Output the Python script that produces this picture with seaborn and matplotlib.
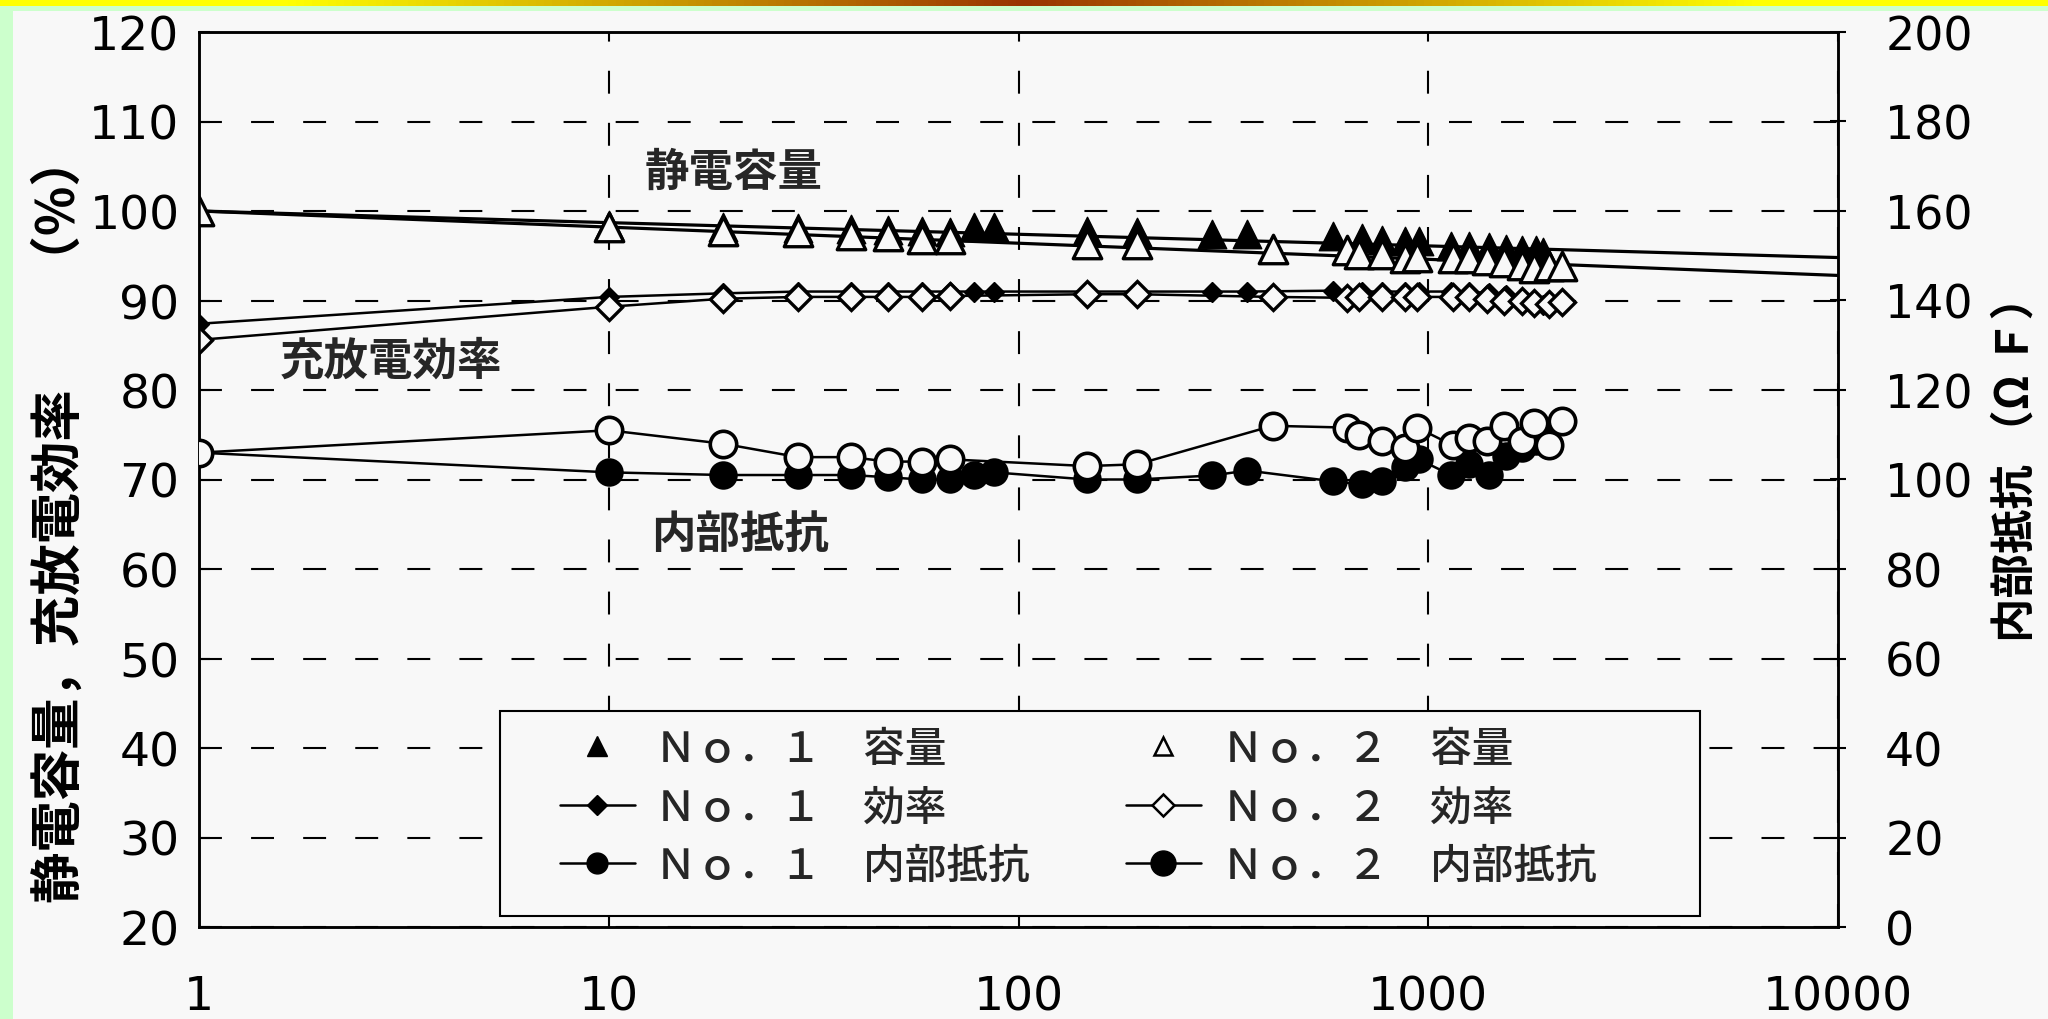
import numpy as np
import pandas as pd
import matplotlib
matplotlib.use("Agg")
import matplotlib.pyplot as plt
from matplotlib.lines import Line2D
from matplotlib.patches import Rectangle
from matplotlib.colors import LinearSegmentedColormap
from matplotlib.ticker import NullLocator
import seaborn as sns

# ---- data: cycle count vs. capacity retention / efficiency (%) and internal resistance (ΩF)
cycles_no1 = [1, 10, 19, 29, 39, 48, 58, 68, 78, 87, 147, 195, 297, 362, 585, 688,
              772, 877, 948, 1137, 1260, 1405, 1550, 1690, 1830, 1910]
capacity_no1 = [100.0, 98.4, 98.2, 98.1, 98.0, 97.9, 97.8, 97.7, 98.2, 98.2, 97.8, 97.7,
                97.4, 97.4, 97.2, 97.0, 96.8, 96.6, 96.7, 96.1, 96.1, 96.0, 95.8, 95.6,
                95.6, 95.4]
efficiency_no1 = [87.4, 90.4, 90.8, 91.0, 91.0, 91.0, 91.0, 91.0, 91.0, 91.0, 91.0, 91.0,
                  91.0, 91.0, 91.1, 91.0, 91.0, 91.0, 91.0, 91.0, 91.0, 90.8, 90.6, 90.2,
                  89.8, 89.5]
resistance_no1 = [106.0, 101.6, 101.0, 101.0, 101.0, 100.5, 100.0, 100.0, 101.0, 101.6,
                  100.0, 100.0, 100.9, 102.0, 99.6, 98.9, 99.6, 102.7, 104.5, 101.0,
                  103.4, 101.0, 105.3, 107.0, 108.6, 110.0]

cycles_no2 = [1, 10, 19, 29, 39, 48, 58, 68, 147, 195, 417, 633, 678, 772, 877, 940,
              1150, 1260, 1390, 1530, 1690, 1810, 1970, 2120]
capacity_no2 = [100.0, 98.2, 97.8, 97.7, 97.3, 97.2, 96.9, 96.9, 96.3, 96.3, 95.8, 95.6,
                95.2, 95.2, 94.8, 94.9, 94.7, 94.7, 94.5, 94.3, 94.0, 93.6, 93.8, 93.9]
efficiency_no2 = [85.6, 89.3, 90.2, 90.4, 90.4, 90.4, 90.4, 90.5, 90.7, 90.7, 90.4, 90.3,
                  90.4, 90.4, 90.4, 90.4, 90.4, 90.4, 90.2, 90.0, 89.9, 89.7, 89.6, 89.8]
resistance_no2 = [106.0, 111.0, 108.0, 105.0, 105.0, 104.0, 104.0, 104.5, 103.0, 103.4,
                  112.0, 111.6, 110.0, 108.6, 107.0, 111.6, 107.6, 109.3, 108.6, 112.0,
                  108.6, 112.7, 107.8, 113.0]

# capacity trend lines (end points)
trend_cycles = [1, 10000]
trend_no1 = [100.0, 94.8]
trend_no2 = [100.0, 92.8]

x_ticks = [1, 10, 100, 1000, 10000]
x_tick_labels = ["1", "10", "100", "1000", "10000"]
left_ticks = [20, 30, 40, 50, 60, 70, 80, 90, 100, 110, 120]
right_ticks = [0, 20, 40, 60, 80, 100, 120, 140, 160, 180, 200]

legend_labels = ["Ｎｏ．１　容量", "Ｎｏ．１　効率", "Ｎｏ．１　内部抵抗",
                 "Ｎｏ．２　容量", "Ｎｏ．２　効率", "Ｎｏ．２　内部抵抗"]

df1 = pd.DataFrame({"cycles": cycles_no1, "capacity": capacity_no1,
                    "efficiency": efficiency_no1, "resistance": resistance_no1})
df2 = pd.DataFrame({"cycles": cycles_no2, "capacity": capacity_no2,
                    "efficiency": efficiency_no2, "resistance": resistance_no2})
df_trend = pd.DataFrame({"cycles": trend_cycles, "no1": trend_no1, "no2": trend_no2})

# ---- style
sns.set_style("white")
plt.rcParams["font.family"] = ["Noto Sans CJK JP", "DejaVu Sans"]
plt.rcParams["axes.unicode_minus"] = False

PAGE = "#f8f8f8"
INK = "black"
narrow = ["Liberation Sans Narrow", "DejaVu Sans"]

fig = plt.figure(figsize=(20.48, 10.20), dpi=100)
fig.patch.set_facecolor("#ccffcc")

# page background and decorative top band
fig.add_artist(Rectangle((13 / 2048, 0), 1 - 13 / 2048, (1020 - 12) / 1020,
                         transform=fig.transFigure, facecolor=PAGE,
                         edgecolor="none", zorder=-10))
band_ax = fig.add_axes([0, 1 - 7 / 1020, 1, 7 / 1020])
band_cmap = LinearSegmentedColormap.from_list(
    "band", [(0.0, "#ffff00"), (0.14, "#ffff00"), (0.33, "#c89600"),
             (0.5, "#993300"), (0.67, "#c89600"), (0.86, "#ffff00"), (1.0, "#ffff00")])
band_ax.imshow(np.linspace(0, 1, 512)[None, :], aspect="auto", cmap=band_cmap)
band_ax.axis("off")

ax = fig.add_axes([199 / 2048, (1020 - 928) / 1020, 1639 / 2048, 895 / 1020])
ax.set_facecolor(PAGE)
ax.set_xscale("log")
ax.set_xlim(1, 10000)
ax.set_ylim(20, 120)

# capacity trend lines
sns.lineplot(data=df_trend, x="cycles", y="no1", ax=ax, color=INK, lw=2.3,
             estimator=None, sort=False, legend=False, zorder=2)
sns.lineplot(data=df_trend, x="cycles", y="no2", ax=ax, color=INK, lw=2.3,
             estimator=None, sort=False, legend=False, zorder=2)

# capacity markers
sns.scatterplot(data=df1, x="cycles", y="capacity", ax=ax, marker="^", s=420,
                color=INK, edgecolor=INK, linewidth=1, legend=False, zorder=3)
sns.scatterplot(data=df2, x="cycles", y="capacity", ax=ax, marker="^", s=420,
                color=PAGE, edgecolor=INK, linewidth=2.4, legend=False, zorder=4)

# charge/discharge efficiency
sns.lineplot(data=df1, x="cycles", y="efficiency", ax=ax, color=INK, lw=1.8,
             marker="D", markersize=10.5, markerfacecolor=INK, markeredgecolor=INK,
             markeredgewidth=1, estimator=None, sort=False, legend=False, zorder=3)
sns.lineplot(data=df2, x="cycles", y="efficiency", ax=ax, color=INK, lw=1.8,
             marker="D", markersize=13, markerfacecolor=PAGE, markeredgecolor=INK,
             markeredgewidth=2.4, estimator=None, sort=False, legend=False, zorder=4)

# grid, ticks, spines of the left axis
ax.grid(True, which="major", color=INK, linestyle=(0, (11, 14)), lw=1.5)
ax.set_xticks(x_ticks, labels=x_tick_labels, fontfamily=narrow, fontsize=34)
ax.xaxis.set_minor_locator(NullLocator())
ax.set_yticks(left_ticks, labels=[str(v) for v in left_ticks],
              fontfamily=narrow, fontsize=34)
ax.tick_params(axis="x", direction="in", length=14, width=1.5, pad=34, colors=INK)
ax.tick_params(axis="y", direction="in", length=8, width=1.5, pad=14, colors=INK)
for sp in ax.spines.values():
    sp.set_color(INK)
    sp.set_linewidth(1.8)
ax.set_xlabel("")
ax.set_ylabel("静電容量，充放電効率　　（%）", fontsize=37, fontweight="bold", color=INK)
ax.yaxis.set_label_coords(-0.069, 0.457)

# in-plot labels
ax.text(20.2, 104.4, "静電容量", fontsize=32, fontweight="bold", ha="center", va="center")
ax.text(2.94, 83.3, "充放電効率", fontsize=32, fontweight="bold", ha="center", va="center")
ax.text(20.9, 63.9, "内部抵抗", fontsize=32, fontweight="bold", ha="center", va="center")

# internal resistance on the right axis
ax2 = ax.twinx()
ax2.set_ylim(0, 200)
sns.lineplot(data=df1, x="cycles", y="resistance", ax=ax2, color=INK, lw=1.8,
             marker="o", markersize=19, markerfacecolor=INK, markeredgecolor=INK,
             markeredgewidth=1.5, estimator=None, sort=False, legend=False, zorder=3)
sns.lineplot(data=df2, x="cycles", y="resistance", ax=ax2, color=INK, lw=1.8,
             marker="o", markersize=19, markerfacecolor=PAGE, markeredgecolor=INK,
             markeredgewidth=2.6, estimator=None, sort=False, legend=False, zorder=4)
ax2.set_xlim(1, 10000)
ax2.set_yticks(right_ticks, labels=[str(v) for v in right_ticks],
               fontfamily="DejaVu Sans", fontsize=33)
ax2.tick_params(axis="y", direction="inout", length=12, width=1.5, pad=28, colors=INK)
ax2.set_xlabel("")
ax2.set_ylabel("内部抵抗 （Ω Ｆ）", fontsize=32, fontweight="bold", color=INK, rotation=90)
ax2.yaxis.set_label_coords(1.0945, 0.525)
for sp in ax2.spines.values():
    sp.set_color(INK)
    sp.set_linewidth(1.8)

# legend box
ax2.add_patch(Rectangle((0.1837, 0.0123), 0.732, 0.229, transform=ax2.transAxes,
                        facecolor=PAGE, edgecolor=INK, lw=1.5, zorder=6, clip_on=False))
handles = [
    Line2D([], [], ls="none", marker="^", ms=14, mfc=INK, mec=INK),
    Line2D([], [], color=INK, lw=1.8, marker="D", ms=10, mfc=INK, mec=INK),
    Line2D([], [], color=INK, lw=1.8, marker="o", ms=15, mfc=INK, mec=INK),
    Line2D([], [], ls="none", marker="^", ms=13, mfc=PAGE, mec=INK, mew=1.8),
    Line2D([], [], color=INK, lw=1.8, marker="D", ms=11, mfc=PAGE, mec=INK, mew=1.8),
    Line2D([], [], color=INK, lw=1.8, marker="o", ms=18, mfc=INK, mec=INK),
]
leg = ax2.legend(handles=handles, labels=legend_labels, ncol=2, frameon=False,
                 loc="upper left", bbox_to_anchor=(0.220, 0.2235),
                 prop={"size": 30, "weight": "medium"},
                 handlelength=1.8, handletextpad=0.5,
                 columnspacing=2.3, labelspacing=0.37, borderpad=0, borderaxespad=0)
leg.set_zorder(7)

fig.savefig("out.png", dpi=100, facecolor=fig.get_facecolor())
